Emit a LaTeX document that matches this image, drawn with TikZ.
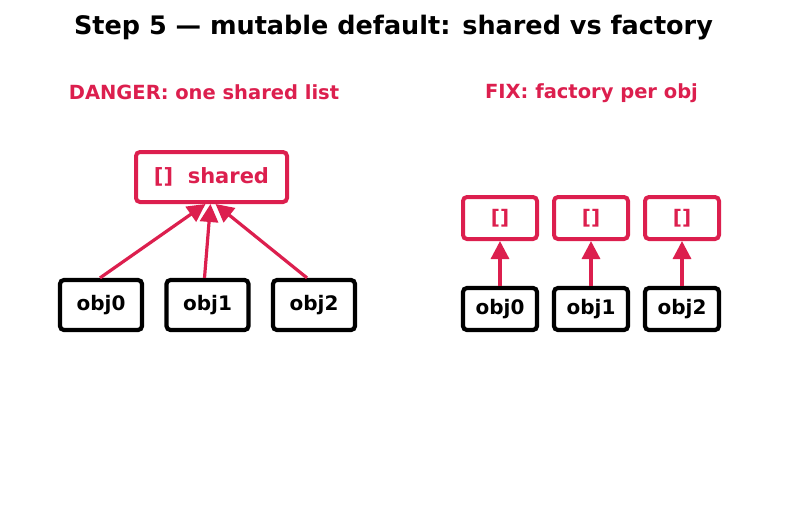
\documentclass[tikz,border=0pt]{standalone}
\usepackage{fontspec}
\setmainfont{DejaVu Sans}
\usepackage{xcolor}
\usepackage{tikz}
\usetikzlibrary{positioning,arrows.meta}

\definecolor{danger}{HTML}{DC1F4E}

\begin{document}
\begin{tikzpicture}[
		x=1pt, y=-1pt,
		node distance=21pt,
		objbox/.style={
			draw=black,
			line width=4.2pt,
			rounded corners=4pt,
			minimum width=82pt,
			minimum height=50pt,
			font=\fontsize{20}{24}\selectfont\bfseries
		},
		listbox/.style={
			draw=danger,
			text=danger,
			line width=4pt,
			rounded corners=4pt,
			minimum width=74pt,
			minimum height=42pt,
			font=\fontsize{20}{24}\selectfont\bfseries
		},
		heading/.style={
			text=danger,
			font=\fontsize{19.5}{23}\selectfont\bfseries
		},
		arrow/.style={-{Triangle[length=18pt,width=18pt]}, danger, line width=3.2pt}
	]
		\useasboundingbox (0,0) rectangle (787,512);

		\node[font=\fontsize{25.5}{30}\selectfont\bfseries] (title) at (393.5,28) {Step 5 --- mutable default: shared vs factory};

		% left: one shared list
		\node[heading] (dangerlabel) at (204,92) {DANGER: one shared list};
		\node[listbox, minimum width=151pt, minimum height=50pt, font=\fontsize{21}{25}\selectfont\bfseries] (shared) at (211.5,177) {[]\ \ shared};
		\node[objbox] (obj0) at (101,305) {obj0};
		\node[objbox] (obj1) at (207.5,305) {obj1};
		\node[objbox] (obj2) at (314,305) {obj2};

		\draw[arrow] ([xshift=-1pt]obj0.north) -- ([xshift=-6pt]shared.south);
		\draw[arrow] ([xshift=-3pt]obj1.north) -- ([xshift=-1pt]shared.south);
		\draw[arrow] ([xshift=-7pt]obj2.north) -- ([xshift=4pt]shared.south);

		% right: factory per obj
		\node[heading] (fixlabel) at (591.5,93) {FIX: factory per obj};
		\node[objbox, minimum width=74pt, minimum height=42pt] (fobj0) at (500,309) {obj0};
		\node[objbox, minimum width=74pt, minimum height=42pt] (fobj1) at (591,309) {obj1};
		\node[objbox, minimum width=74pt, minimum height=42pt] (fobj2) at (682,309) {obj2};
		\node[listbox] (list0) at (500,218) {[]};
		\node[listbox] (list1) at (591,218) {[]};
		\node[listbox] (list2) at (682,218) {[]};

		\draw[arrow] (fobj0) -- (list0);
		\draw[arrow] (fobj1) -- (list1);
		\draw[arrow] (fobj2) -- (list2);
	\end{tikzpicture}
\end{document}
